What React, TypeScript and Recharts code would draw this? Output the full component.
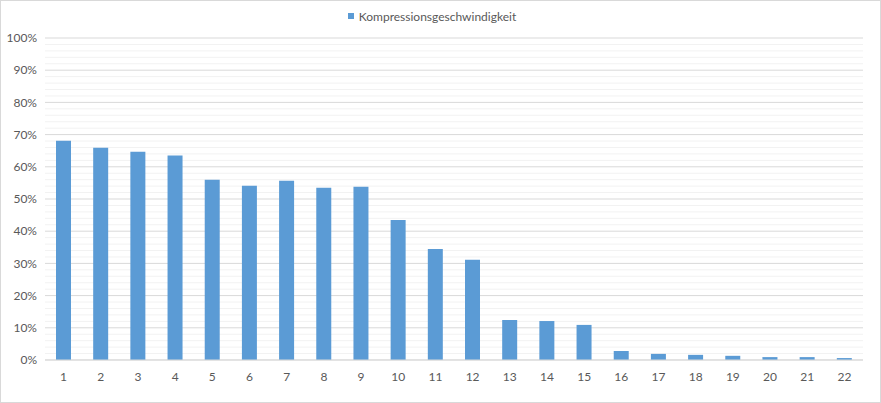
import { Bar, BarChart, CartesianGrid, Legend, ReferenceLine, XAxis, YAxis } from 'recharts';

const categories = ['1', '2', '3', '4', '5', '6', '7', '8', '9', '10', '11', '12', '13', '14', '15', '16', '17', '18', '19', '20', '21', '22'];
const speed = [68.1, 65.9, 64.7, 63.5, 56.0, 54.1, 55.7, 53.5, 53.8, 43.5, 34.5, 31.1, 12.4, 12.1, 10.9, 2.8, 1.9, 1.6, 1.3, 0.9, 0.9, 0.6];
const majorTicks = [0, 10, 20, 30, 40, 50, 60, 70, 80, 90, 100];
const minorTicks = [2, 4, 6, 8, 12, 14, 16, 18, 22, 24, 26, 28, 32, 34, 36, 38, 42, 44, 46, 48, 52, 54, 56, 58, 62, 64, 66, 68, 72, 74, 76, 78, 82, 84, 86, 88, 92, 94, 96, 98];

const seriesName = 'Kompressionsgeschwindigkeit';
const data = categories.map((c, i) => ({ name: c, value: speed[i] }));

const FONT = 'Lato, "Open Sans", sans-serif';
const TEXT = '#595959';
const BLUE = '#5b9bd5';

function LegendContent() {
  return (
    <div style={{ display: 'flex', justifyContent: 'center', alignItems: 'center', fontFamily: FONT, fontSize: 12, color: TEXT, height: 14 }}>
      <span style={{ display: 'inline-block', width: 6, height: 6, background: BLUE, marginRight: 5 }} />
      <span>{seriesName}</span>
    </div>
  );
}

export default function App() {
  return (
    <div
      style={{
        position: 'absolute',
        left: 0,
        top: 0,
        width: 881,
        height: 403,
        background: '#fff',
        boxSizing: 'border-box',
        border: '1px solid #d9d9d9',
      }}
    >
      <BarChart
        width={879}
        height={401}
        data={data}
        margin={{ top: 23, right: 17, left: 0, bottom: 0 }}
        barSize={15}
      >
        <CartesianGrid vertical={false} stroke="#d9d9d9" />
        <XAxis
          dataKey="name"
          tick={{ fill: TEXT, fontSize: 12, fontFamily: FONT }}
          tickLine={false}
          tickMargin={6}
          axisLine={{ stroke: '#d9d9d9' }}
          height={42}
        />
        <YAxis
          domain={[0, 100]}
          ticks={majorTicks}
          interval={0}
          tick={{ fill: TEXT, fontSize: 12, fontFamily: FONT }}
          tickFormatter={(v: number) => `${v}%`}
          tickLine={false}
          axisLine={false}
          width={44}
        />
        {minorTicks.map((t) => (
          <ReferenceLine key={t} y={t} stroke="#f2f2f2" zIndex={-50} />
        ))}
        <Legend verticalAlign="top" content={LegendContent} wrapperStyle={{ top: 8 }} />
        <Bar dataKey="value" name={seriesName} fill={BLUE} isAnimationActive={false} />
      </BarChart>
    </div>
  );
}
